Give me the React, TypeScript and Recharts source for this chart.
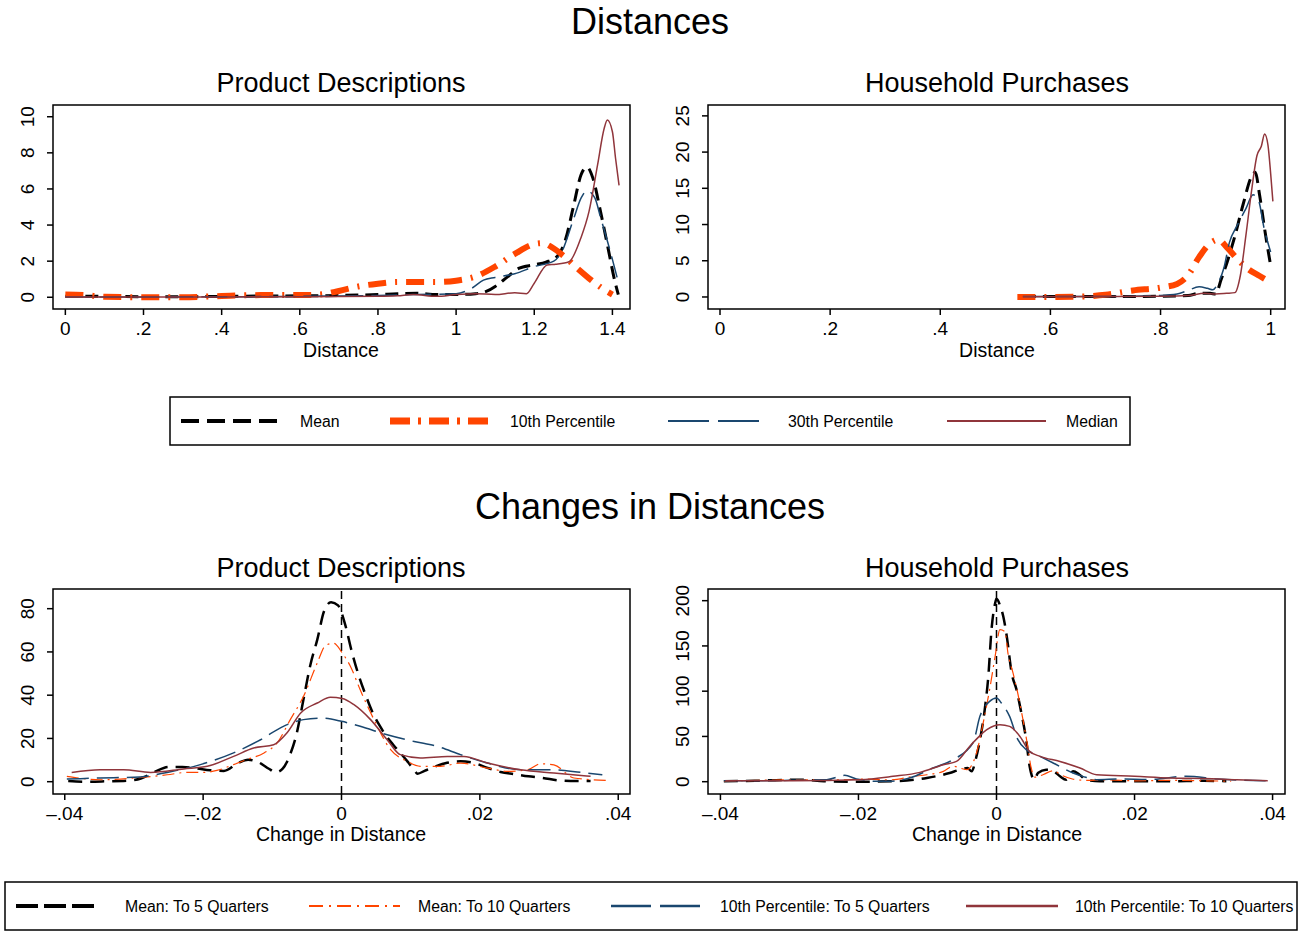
import { LineChart, Line, XAxis, YAxis, ReferenceArea, ReferenceLine } from 'recharts';

const FONT = '"Liberation Sans", Arial, Helvetica, sans-serif';

const NAVY = '#1a476f';
const MAROON = '#90353b';
const ORANGE = '#ff4500';

// ---- Distances: Product Descriptions ----
const pdMeanX = [0, 0.1, 0.2, 0.3, 0.4, 0.5, 0.6, 0.7, 0.8, 0.85, 0.9, 0.95, 1.0, 1.05, 1.08, 1.1, 1.13, 1.16, 1.2, 1.23, 1.26, 1.28, 1.3, 1.32, 1.335, 1.35, 1.37, 1.39, 1.405, 1.415];
const pdMeanY = [0.05, 0.05, 0.03, 0.03, 0.05, 0.07, 0.08, 0.1, 0.15, 0.2, 0.22, 0.15, 0.15, 0.2, 0.35, 0.6, 1.1, 1.6, 1.8, 1.95, 2.3, 3.2, 5.0, 6.8, 7.2, 6.6, 4.7, 2.6, 1.0, 0.15];
const pdP10X = [0, 0.05, 0.1, 0.2, 0.3, 0.4, 0.5, 0.6, 0.65, 0.7, 0.75, 0.8, 0.85, 0.9, 0.95, 1.0, 1.05, 1.1, 1.15, 1.2, 1.22, 1.25, 1.28, 1.31, 1.34, 1.37, 1.4];
const pdP10Y = [0.15, 0.12, 0.03, 0.0, 0.0, 0.07, 0.12, 0.12, 0.15, 0.35, 0.6, 0.75, 0.85, 0.85, 0.85, 0.92, 1.15, 1.7, 2.4, 2.95, 3.0, 2.7, 2.2, 1.6, 1.05, 0.55, 0.15];
const pdP30X = [0, 0.2, 0.4, 0.6, 0.8, 0.9, 1.0, 1.04, 1.07, 1.1, 1.15, 1.2, 1.25, 1.27, 1.3, 1.32, 1.335, 1.355, 1.37, 1.395, 1.412];
const pdP30Y = [0.02, 0.02, 0.03, 0.05, 0.1, 0.15, 0.2, 0.5, 0.95, 1.1, 1.3, 1.7, 2.0, 2.5, 4.3, 5.5, 5.9, 5.5, 4.4, 2.5, 1.1];
const pdMedX = [0, 0.2, 0.4, 0.6, 0.8, 0.85, 0.89, 0.95, 1.0, 1.05, 1.1, 1.15, 1.18, 1.2, 1.233, 1.255, 1.289, 1.319, 1.34, 1.362, 1.379, 1.387, 1.4, 1.408, 1.417];
const pdMedY = [0.02, 0.02, 0.02, 0.03, 0.05, 0.08, 0.15, 0.05, 0.15, 0.2, 0.15, 0.25, 0.2, 0.78, 1.79, 1.83, 1.97, 3.27, 4.74, 7.33, 9.36, 9.82, 9.17, 7.7, 6.2];

// ---- Distances: Household Purchases ----
const hpMeanX = [0.55, 0.6, 0.7, 0.8, 0.85, 0.87, 0.89, 0.9, 0.91, 0.92, 0.935, 0.95, 0.965, 0.972, 0.98, 0.99, 1.0];
const hpMeanY = [0.05, 0.05, 0.05, 0.1, 0.2, 0.5, 0.5, 0.4, 2.4, 4.6, 8.4, 12.8, 16.6, 17.2, 14.0, 8.9, 4.3];
const hpP10X = [0.54, 0.6, 0.65, 0.7, 0.75, 0.8, 0.83, 0.85, 0.87, 0.89, 0.905, 0.92, 0.94, 0.96, 0.98, 1.0];
const hpP10Y = [0, 0, 0.05, 0.3, 0.9, 1.3, 1.8, 3.0, 5.5, 7.4, 7.9, 6.9, 5.2, 3.8, 2.9, 2.0];
const hpP30X = [0.55, 0.7, 0.8, 0.83, 0.85, 0.87, 0.885, 0.895, 0.905, 0.915, 0.925, 0.94, 0.955, 0.968, 0.978, 0.988, 1.0];
const hpP30Y = [0.05, 0.05, 0.2, 0.4, 0.9, 1.4, 1.2, 1.0, 2.0, 4.0, 7.5, 10, 12.2, 14.1, 13.3, 9.5, 6.2];
const hpMedX = [0.55, 0.7, 0.8, 0.85, 0.88, 0.9, 0.92, 0.935, 0.945, 0.955, 0.965, 0.975, 0.983, 0.989, 0.995, 1.0, 1.004];
const hpMedY = [0.02, 0.05, 0.1, 0.2, 0.5, 0.4, 0.5, 0.6, 3.0, 8.5, 14.5, 19.5, 20.8, 22.5, 21, 17, 13.2];

// ---- Changes in Distances: Product Descriptions ----
const cpdMean5X = [-0.0395, -0.037, -0.034, -0.031, -0.029, -0.027, -0.025, -0.023, -0.021, -0.019, -0.017, -0.015, -0.0135, -0.012, -0.0105, -0.0095, -0.0085, -0.0075, -0.0065, -0.0055, -0.0045, -0.0035, -0.0025, -0.0015, -0.0005, 0.0005, 0.0015, 0.0025, 0.0035, 0.0045, 0.0055, 0.0065, 0.0075, 0.0085, 0.0095, 0.0105, 0.011, 0.012, 0.0135, 0.015, 0.0172, 0.019, 0.021, 0.023, 0.025, 0.027, 0.029, 0.0317, 0.034, 0.036];
const cpdMean5Y = [0.3, 0, 0.2, 0.5, 1.5, 4.5, 6.8, 6.8, 6.2, 5.3, 5.0, 8.5, 10.2, 9.0, 6.0, 4.3, 6.0, 12, 22, 38, 54, 65.7, 79, 83, 81.5, 73, 60, 49, 40, 32, 26, 21, 17, 13.3, 9.5, 5.5, 3.7, 5, 7, 8.5, 9.4, 8.8, 6.5, 4.5, 3.5, 2.5, 1.8, 0.5, 0.3, 0.3];
const cpdMean10X = [-0.0397, -0.0349, -0.03, -0.0252, -0.0223, -0.02, -0.018, -0.0156, -0.0137, -0.0112, -0.0093, -0.0074, -0.0055, -0.0035, -0.0023, -0.0011, 0.0001, 0.0013, 0.0027, 0.0047, 0.0071, 0.0095, 0.0114, 0.0143, 0.0172, 0.0211, 0.024, 0.0269, 0.0288, 0.0307, 0.0336, 0.0385];
const cpdMean10Y = [2.5, 0.9, 1.7, 3.2, 4.3, 4.3, 5.2, 7.9, 10.2, 13.3, 17.9, 28.7, 39.4, 54.9, 63, 64, 59.5, 53.3, 42.5, 28.7, 14.8, 9.4, 7.1, 7.1, 8.6, 6.3, 4.8, 5.5, 8.3, 7.8, 1.7, 0.6];
const cpdP10q5X = [-0.0397, -0.0349, -0.0291, -0.0252, -0.0204, -0.0156, -0.0117, -0.0084, -0.0055, -0.003, 0, 0.0027, 0.0066, 0.0105, 0.0139, 0.0172, 0.0211, 0.0259, 0.0307, 0.0346, 0.0377];
const cpdP10q5Y = [1.2, 1.7, 2.2, 4.3, 7.9, 13.3, 19.4, 25.6, 28.7, 29.4, 27.9, 25.6, 21.7, 18.6, 16.3, 12.5, 8.6, 5.5, 5.5, 4.3, 3.2];
const cpdP10q10X = [-0.039, -0.0349, -0.0315, -0.0276, -0.0228, -0.0194, -0.0156, -0.0127, -0.0098, -0.0079, -0.0059, -0.0035, -0.0016, 0.0001, 0.0018, 0.0042, 0.0066, 0.0085, 0.0114, 0.0153, 0.0177, 0.0211, 0.0259, 0.0307, 0.036];
const cpdP10q10Y = [4.3, 5.5, 5.5, 4.3, 5.9, 7.1, 11.7, 15.6, 17.1, 22.5, 31.8, 36.4, 39, 38.5, 35.6, 28.7, 19.4, 12.5, 11, 11.7, 11.7, 8.6, 5.5, 4, 2.5];

// ---- Changes in Distances: Household Purchases ----
const chpMean5X = [-0.0395, -0.035, -0.031, -0.028, -0.025, -0.02, -0.015, -0.0101, -0.0068, -0.0053, -0.0042, -0.0036, -0.003, -0.0024, -0.0017, -0.0012, -0.0007, -0.0002, 0, 0.0005, 0.001, 0.0015, 0.0022, 0.0029, 0.0036, 0.0043, 0.0048, 0.0055, 0.006, 0.0072, 0.0082, 0.0092, 0.0101, 0.0111, 0.012, 0.013, 0.015, 0.02, 0.025, 0.03, 0.0333];
const chpMean5Y = [0.5, 1, 2, 2.2, 0.5, 0, 0.5, 4.1, 9.6, 13.3, 15, 11.4, 25, 46, 80, 115, 170, 197, 202, 195, 182, 160, 120, 101.7, 75.9, 46.4, 17, 2.2, 9.6, 13.3, 12, 6, 2.2, 11.4, 8, 2, 0.5, 0.5, 0.5, 1, 0.5];
const chpMean10X = [-0.0395, -0.0295, -0.0222, -0.0198, -0.0155, -0.012, -0.0101, -0.0077, -0.0063, -0.0043, -0.0029, -0.0019, -0.001, -0.0002, 0.0005, 0.0012, 0.0017, 0.0024, 0.0031, 0.0038, 0.0045, 0.005, 0.0056, 0.0068, 0.0082, 0.0095, 0.011, 0.013, 0.016, 0.02, 0.025, 0.03, 0.034];
const chpMean10Y = [0.5, 2, 2, 2.9, 2, 5.9, 7.7, 11.4, 17, 13.3, 31.7, 66, 101.7, 138.5, 168, 166, 140, 120, 97, 70, 40, 16, 5, 8, 12, 7, 3, 1.5, 2, 1, 1.5, 1, 0.5];
const chpP10q5X = [-0.0395, -0.035, -0.03, -0.0246, -0.0227, -0.022, -0.0203, -0.019, -0.0174, -0.0155, -0.0126, -0.0092, -0.0063, -0.0034, -0.0024, -0.001, 0, 0.0007, 0.0019, 0.0031, 0.0043, 0.0058, 0.0082, 0.0111, 0.0125, 0.0145, 0.018, 0.022, 0.0275, 0.032, 0.039];
const chpP10q5Y = [1, 1, 1.5, 2.2, 5.9, 7, 3, 1.5, 0.4, 0.4, 4.1, 15.1, 24.3, 42.8, 72.2, 88.7, 92.5, 87, 72.2, 46.4, 35.4, 29.8, 20.7, 9.6, 5.9, 2.2, 3, 2.5, 5.9, 3, 1];
const chpP10q10X = [-0.0393, -0.0295, -0.0198, -0.015, -0.0111, -0.0077, -0.0058, -0.0039, -0.0029, -0.0014, 0.0005, 0.0019, 0.0034, 0.0048, 0.0063, 0.0092, 0.0121, 0.0145, 0.02, 0.0251, 0.03, 0.0348, 0.0393];
const chpP10q10Y = [1.1, 1.1, 2.2, 5.9, 10.3, 18.8, 22.4, 39, 47, 57.5, 63, 61.1, 50, 33.5, 28, 22.4, 15.1, 7.7, 6, 4.1, 3.5, 2.2, 1.1];

// ticks
const distTicks = [0, 0.2, 0.4, 0.6, 0.8, 1, 1.2, 1.4];
const hpDistTicks = [0, 0.2, 0.4, 0.6, 0.8, 1];
const changeTicks = [-0.04, -0.02, 0, 0.02, 0.04];
const pdYTicks = [0, 2, 4, 6, 8, 10];
const hpYTicks = [0, 5, 10, 15, 20, 25];
const cpdYTicks = [0, 20, 40, 60, 80];
const chpYTicks = [0, 50, 100, 150, 200];

const topLegend = ['Mean', '10th Percentile', '30th Percentile', 'Median'];
const bottomLegend = ['Mean: To 5 Quarters', 'Mean: To 10 Quarters', '10th Percentile: To 5 Quarters', '10th Percentile: To 10 Quarters'];

const pts = (xs: number[], ys: number[]) => xs.map((x, i) => ({ x, y: ys[i] }));

const fmt = (v: number) => {
  if (v === 0) return '0';
  const s = String(+v.toFixed(2));
  return s.replace(/^(-?)0\./, '$1.').replace('-', '\u2013');
};

const topStyles = [
  { color: '#000', width: 3, dash: '13 7' },
  { color: ORANGE, width: 6, dash: '18 9 2 9' },
  { color: NAVY, width: 1.5, dash: '26 8' },
  { color: MAROON, width: 1.5, dash: undefined },
];
const bottomStyles = [
  { color: '#000', width: 2.5, dash: '14 8' },
  { color: ORANGE, width: 1.2, dash: '12 5 2 5' },
  { color: NAVY, width: 1.5, dash: '22 8' },
  { color: MAROON, width: 1.5, dash: undefined },
];

const renderYTick = (p: any) => (
  <text
    transform={`translate(${p.x - 11},${p.y}) rotate(-90)`}
    textAnchor="middle"
    fontSize={19}
    fontFamily={FONT}
    fill="#000"
  >
    {p.payload.value}
  </text>
);

function Panel({ box, xDomain, yDomain, xTicks, yTicks, series, zeroLine }: any) {
  return (
    <div style={{ position: 'absolute', left: box.left - 60, top: box.top - 10 }}>
      <LineChart width={box.w + 70} height={box.h + 70} margin={{ top: 10, right: 10, bottom: 0, left: 0 }}>
        <XAxis
          type="number"
          dataKey="x"
          domain={xDomain}
          ticks={xTicks}
          allowDataOverflow
          interval={0}
          axisLine={false}
          tickLine={{ stroke: '#000', strokeWidth: 1.5 }}
          tickSize={6}
          tickMargin={7}
          height={60}
          tick={{ fontSize: 19, fill: '#000', fontFamily: FONT }}
          tickFormatter={fmt}
        />
        <YAxis
          type="number"
          domain={yDomain}
          ticks={yTicks}
          allowDataOverflow
          interval={0}
          axisLine={false}
          tickLine={{ stroke: '#000', strokeWidth: 1.5 }}
          tickSize={6}
          tickMargin={2}
          width={60}
          tick={renderYTick}
        />
        <ReferenceArea x1={xDomain[0]} x2={xDomain[1]} y1={yDomain[0]} y2={yDomain[1]} fill="none" stroke="#000" strokeWidth={1.5} />
        {zeroLine && <ReferenceLine x={0} stroke="#000" strokeWidth={1.5} strokeDasharray="8 5" />}
        {series.map((s: any, i: number) => (
          <Line
            key={i}
            data={pts(s.xs, s.ys)}
            dataKey="y"
            type="monotone"
            stroke={s.color}
            strokeWidth={s.width}
            strokeDasharray={s.dash}
            dot={false}
            activeDot={false}
            isAnimationActive={false}
          />
        ))}
      </LineChart>
    </div>
  );
}

function Title({ text, cx, cy, size }: any) {
  return (
    <div
      style={{
        position: 'absolute',
        left: cx - 300,
        width: 600,
        top: cy - size / 2,
        lineHeight: `${size}px`,
        fontSize: size,
        textAlign: 'center',
        color: '#000',
        whiteSpace: 'nowrap',
      }}
    >
      {text}
    </div>
  );
}

function LegendBox({ top, left, width, labels, styles, items }: any) {
  return (
    <svg style={{ position: 'absolute', left: 0, top: top - 4 }} width={1313} height={56}>
      <rect x={left} y={4} width={width} height={48} fill="#fff" stroke="#000" strokeWidth={1.5} />
      {items.map((it: any, i: number) => (
        <g key={i}>
          <line x1={it.x1} x2={it.x2} y1={28} y2={28} stroke={styles[i].color} strokeWidth={it.w} strokeDasharray={it.dash} />
          <text x={it.tx} y={33.5} fontSize={15.8} fontFamily={FONT} fill="#000">
            {labels[i]}
          </text>
        </g>
      ))}
    </svg>
  );
}

const boxTL = { left: 53, top: 105, w: 577, h: 204 };
const boxTR = { left: 708, top: 105, w: 577, h: 204 };
const boxBL = { left: 53, top: 589, w: 577, h: 205 };
const boxBR = { left: 708, top: 589, w: 577, h: 205 };

export default function App() {
  const mk = (styles: any[], xs: number[][], ys: number[][]) =>
    styles.map((s, i) => ({ ...s, xs: xs[i], ys: ys[i] }));

  return (
    <div
      style={{
        position: 'absolute',
        left: 0,
        top: 0,
        width: 1313,
        height: 931,
        background: '#fff',
        fontFamily: FONT,
        overflow: 'hidden',
      }}
    >
      <Title text="Distances" cx={650} cy={22} size={36} />
      <Title text="Product Descriptions" cx={341} cy={83} size={27} />
      <Title text="Household Purchases" cx={997} cy={83} size={27} />
      <Panel
        box={boxTL}
        xDomain={[-0.0316, 1.445]}
        yDomain={[-0.65, 10.65]}
        xTicks={distTicks}
        yTicks={pdYTicks}
        series={mk(topStyles, [pdMeanX, pdP10X, pdP30X, pdMedX], [pdMeanY, pdP10Y, pdP30Y, pdMedY])}
      />
      <Panel
        box={boxTR}
        xDomain={[-0.0218, 1.026]}
        yDomain={[-1.66, 26.5]}
        xTicks={hpDistTicks}
        yTicks={hpYTicks}
        series={mk(topStyles, [hpMeanX, hpP10X, hpP30X, hpMedX], [hpMeanY, hpP10Y, hpP30Y, hpMedY])}
      />
      <Title text="Distance" cx={341} cy={351} size={19.5} />
      <Title text="Distance" cx={997} cy={351} size={19.5} />
      <LegendBox
        top={397}
        left={170}
        width={960}
        labels={topLegend}
        styles={topStyles}
        items={[
          { x1: 181, x2: 279, w: 4, dash: '18 8', tx: 300 },
          { x1: 390, x2: 490, w: 7, dash: '20 8 3 8', tx: 510 },
          { x1: 668, x2: 759, w: 2, dash: '41 9', tx: 788 },
          { x1: 947, x2: 1046, w: 2, dash: undefined, tx: 1066 },
        ]}
      />

      <Title text="Changes in Distances" cx={650} cy={507} size={36} />
      <Title text="Product Descriptions" cx={341} cy={568} size={27} />
      <Title text="Household Purchases" cx={997} cy={568} size={27} />
      <Panel
        box={boxBL}
        xDomain={[-0.0417, 0.0417]}
        yDomain={[-5.69, 89.1]}
        xTicks={changeTicks}
        yTicks={cpdYTicks}
        zeroLine
        series={mk(bottomStyles, [cpdMean5X, cpdMean10X, cpdP10q5X, cpdP10q10X], [cpdMean5Y, cpdMean10Y, cpdP10q5Y, cpdP10q10Y])}
      />
      <Panel
        box={boxBR}
        xDomain={[-0.0418, 0.0418]}
        yDomain={[-13.6, 212.9]}
        xTicks={changeTicks}
        yTicks={chpYTicks}
        zeroLine
        series={mk(bottomStyles, [chpMean5X, chpMean10X, chpP10q5X, chpP10q10X], [chpMean5Y, chpMean10Y, chpP10q5Y, chpP10q10Y])}
      />
      <Title text="Change in Distance" cx={341} cy={835} size={19.5} />
      <Title text="Change in Distance" cx={997} cy={835} size={19.5} />
      <LegendBox
        top={882}
        left={5}
        width={1292}
        labels={bottomLegend}
        styles={bottomStyles}
        items={[
          { x1: 16, x2: 97, w: 4, dash: '22 6', tx: 125 },
          { x1: 309, x2: 400, w: 2, dash: '14 6 2 6', tx: 418 },
          { x1: 611, x2: 702, w: 2.5, dash: '40 9', tx: 720 },
          { x1: 966, x2: 1058, w: 2.5, dash: undefined, tx: 1075 },
        ]}
      />
    </div>
  );
}
